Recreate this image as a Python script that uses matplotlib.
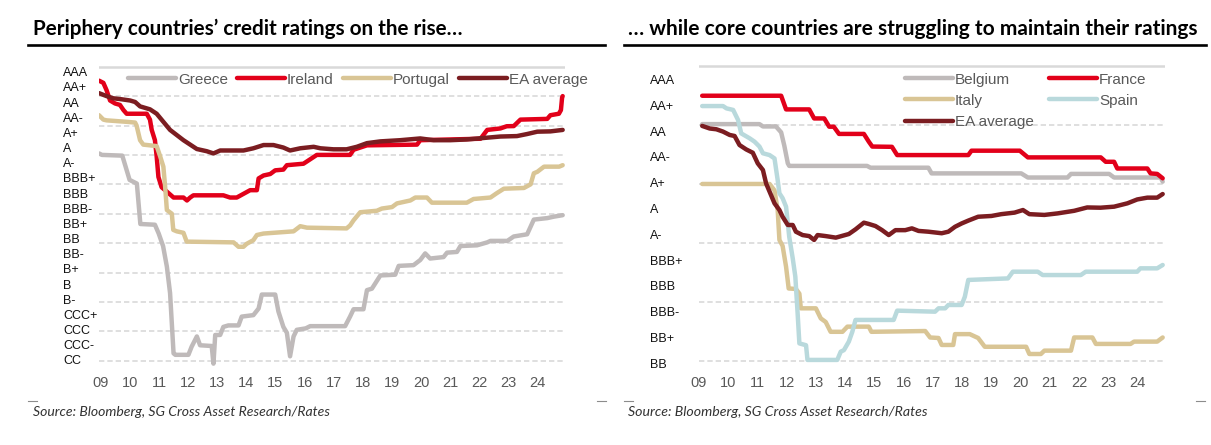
import matplotlib
matplotlib.use("Agg")
import matplotlib.pyplot as plt
import numpy as np

plt.rcParams['font.family'] = ['Liberation Sans', 'DejaVu Sans']

# ---------------- data (years, rating scale) ----------------
greece_x = [2009.0, 2009.1, 2009.8, 2010.05, 2010.3, 2010.35, 2010.42, 2010.92, 2011.05, 2011.2, 2011.33,
            2011.44, 2011.56, 2011.62, 2012.07, 2012.18, 2012.36, 2012.47, 2012.87, 2012.93, 2012.99,
            2013.16, 2013.27, 2013.44, 2013.79, 2013.9, 2014.3, 2014.48, 2014.59, 2015.05, 2015.16,
            2015.33, 2015.45, 2015.56, 2015.68, 2015.79, 2016.1, 2016.25, 2017.45, 2017.62, 2017.74,
            2018.08, 2018.2, 2018.37, 2018.66, 2019.17, 2019.29, 2019.8, 2020.03, 2020.2, 2020.37,
            2020.83, 2020.95, 2021.29, 2021.41, 2021.98, 2022.33, 2022.44, 2023.02, 2023.24, 2023.7,
            2023.93, 2024.39, 2024.62, 2024.92]
greece_y = [14.1, 14.0, 13.95, 12.3, 12.05, 10.9, 9.3, 9.25, 8.65, 7.8, 6.4,
            4.6, 0.5, 0.4, 0.4, 0.95, 1.65, 1.05, 1.0, -0.2, 1.75,
            1.75, 2.3, 2.4, 2.4, 3.0, 3.1, 3.55, 4.5, 4.5, 3.35,
            2.3, 1.9, 0.3, 1.65, 2.1, 2.2, 2.35, 2.35, 3.0, 3.5,
            3.5, 4.8, 4.9, 5.8, 5.85, 6.45, 6.5, 6.85, 7.3, 6.95,
            7.05, 7.35, 7.4, 7.8, 7.85, 8.05, 8.15, 8.15, 8.45, 8.6,
            9.6, 9.7, 9.8, 9.9]

ireland_x = [2009.0, 2009.15, 2009.26, 2009.38, 2009.55, 2009.72, 2009.84, 2009.95, 2010.64, 2010.75,
             2010.81, 2010.92, 2010.98, 2011.04, 2011.15, 2011.33, 2011.56, 2011.9, 2012.02, 2012.13,
             2012.24, 2013.27, 2013.5, 2013.73, 2013.96, 2014.19, 2014.42, 2014.48, 2014.65, 2014.88,
             2015.05, 2015.33, 2015.45, 2016.02, 2016.25, 2016.48, 2017.62, 2017.74, 2018.2, 2019.92,
             2020.03, 2022.1, 2022.33, 2022.78, 2023.0, 2023.24, 2023.47, 2024.39, 2024.5, 2024.79,
             2024.86, 2024.9, 2024.92]
ireland_y = [19.05, 18.9, 18.4, 17.7, 17.5, 17.4, 17.05, 16.8, 16.8, 16.4,
             15.7, 15.0, 13.9, 12.5, 11.8, 11.5, 11.1, 11.1, 10.9, 11.1,
             11.25, 11.25, 11.1, 11.1, 11.35, 11.6, 11.6, 12.4, 12.6, 12.7,
             12.95, 13.0, 13.3, 13.4, 13.7, 14.0, 14.0, 14.35, 14.65, 14.7,
             15.0, 15.1, 15.7, 15.8, 15.95, 15.96, 16.4, 16.45, 16.7, 16.8,
             17.05, 17.9, 18.0]

portugal_x = [2009.0, 2009.15, 2009.26, 2009.95, 2010.24, 2010.29, 2010.41, 2010.52, 2010.98, 2011.1,
              2011.21, 2011.27, 2011.33, 2011.5, 2011.55, 2011.67, 2011.9, 2012.01, 2013.62, 2013.79,
              2013.96, 2014.07, 2014.3, 2014.42, 2014.65, 2014.99, 2015.68, 2015.91, 2016.14, 2017.5,
              2017.62, 2017.74, 2017.97, 2018.54, 2018.71, 2019.06, 2019.23, 2019.69, 2019.86, 2020.26,
              2020.43, 2021.63, 2021.86, 2022.44, 2022.66, 2022.9, 2023.59, 2023.82, 2023.93, 2024.05,
              2024.28, 2024.8, 2024.92]
portugal_y = [16.7, 16.4, 16.35, 16.25, 16.2, 16.0, 15.0, 14.7, 14.6, 13.9,
              13.2, 11.85, 10.25, 10.0, 8.9, 8.8, 8.7, 8.1, 8.05, 7.75,
              7.75, 7.95, 8.2, 8.55, 8.65, 8.7, 8.8, 9.15, 9.05, 9.0,
              9.2, 9.55, 10.1, 10.2, 10.35, 10.45, 10.7, 10.9, 11.1, 11.1,
              10.75, 10.75, 11.0, 11.1, 11.4, 11.7, 11.75, 12.0, 12.75, 12.85,
              13.2, 13.2, 13.3]

ea_left_x = [2009.0, 2009.26, 2009.49, 2009.72, 2010.07, 2010.24, 2010.41, 2010.75, 2010.98, 2011.21,
             2011.44, 2011.67, 2011.9, 2012.13, 2012.36, 2012.7, 2012.93, 2013.16, 2013.62, 2013.96,
             2014.3, 2014.65, 2014.99, 2015.33, 2015.56, 2015.91, 2016.37, 2016.6, 2017.05, 2017.5,
             2017.85, 2018.2, 2018.66, 2019.34, 2020.03, 2020.49, 2021.06, 2021.63, 2022.2, 2022.78,
             2023.35, 2023.7, 2024.05, 2024.5, 2024.92]
ea_left_y = [18.2, 18.0, 17.85, 17.8, 17.7, 17.6, 17.3, 17.1, 16.8, 16.25,
             15.7, 15.35, 15.0, 14.7, 14.4, 14.25, 14.1, 14.3, 14.3, 14.3,
             14.45, 14.67, 14.67, 14.5, 14.3, 14.45, 14.55, 14.45, 14.38, 14.38,
             14.55, 14.8, 14.92, 15.0, 15.12, 15.0, 15.0, 15.05, 15.15, 15.25,
             15.28, 15.42, 15.58, 15.6, 15.7]

belgium_x = [2009.0, 2010.98, 2011.1, 2011.55, 2011.73, 2011.84, 2011.96, 2012.01, 2014.7, 2014.82,
             2016.82, 2016.93, 2020.03, 2020.26, 2021.63, 2021.75, 2023.07, 2023.24, 2024.85, 2024.92]
belgium_y = [9.17, 9.17, 9.08, 9.08, 8.85, 8.33, 7.65, 7.55, 7.55, 7.48,
             7.48, 7.26, 7.26, 7.1, 7.1, 7.24, 7.24, 7.1, 7.1, 6.94]

france_x = [2009.0, 2011.73, 2011.9, 2012.7, 2012.87, 2013.22, 2013.39, 2013.55, 2013.73, 2014.59,
            2014.76, 2014.88, 2015.56, 2015.74, 2018.2, 2018.31, 2019.98, 2020.26, 2022.78, 2022.95,
            2023.24, 2023.35, 2024.39, 2024.5, 2024.73, 2024.92]
france_y = [10.27, 10.27, 9.74, 9.74, 9.39, 9.39, 9.07, 9.07, 8.79, 8.79,
            8.49, 8.3, 8.29, 7.97, 7.97, 8.14, 8.14, 7.88, 7.88, 7.71,
            7.71, 7.45, 7.45, 7.26, 7.24, 7.07]

italy_x = [2009.0, 2011.33, 2011.5, 2011.61, 2011.67, 2011.78, 2011.9, 2011.99, 2012.24, 2012.36,
           2012.41, 2012.93, 2013.1, 2013.27, 2013.44, 2013.85, 2014.02, 2014.76, 2014.85, 2016.71,
           2016.88, 2017.17, 2017.28, 2017.68, 2017.74, 2018.25, 2018.54, 2018.77, 2020.2, 2020.31,
           2020.71, 2020.83, 2021.75, 2021.86, 2022.49, 2022.61, 2023.81, 2023.93, 2024.73, 2024.92]
italy_y = [6.85, 6.85, 6.6, 5.84, 4.68, 4.45, 3.64, 2.8, 2.78, 2.6,
           2.03, 2.03, 1.64, 1.5, 1.12, 1.12, 1.32, 1.32, 1.12, 1.15,
           0.9, 0.88, 0.61, 0.61, 1.03, 1.03, 0.88, 0.54, 0.54, 0.26,
           0.26, 0.39, 0.39, 0.9, 0.9, 0.65, 0.65, 0.74, 0.74, 0.9]

spain_x = [2009.0, 2009.72, 2009.84, 2010.07, 2010.24, 2010.35, 2010.64, 2010.81, 2010.98, 2011.1,
           2011.33, 2011.5, 2011.61, 2011.67, 2011.78, 2011.9, 2012.01, 2012.13, 2012.22, 2012.3,
           2012.36, 2012.59, 2012.64, 2013.67, 2013.79, 2013.9, 2014.07, 2014.19, 2014.3, 2015.62,
           2015.74, 2017.05, 2017.17, 2017.4, 2017.51, 2017.97, 2018.08, 2018.2, 2019.57, 2019.74,
           2020.6, 2020.77, 2022.09, 2022.26, 2024.04, 2024.15, 2024.73, 2024.92]
spain_y = [9.87, 9.87, 9.78, 9.72, 9.33, 8.81, 8.62, 8.49, 8.3, 8.04,
           7.97, 7.84, 7.0, 6.49, 6.3, 5.97, 4.8, 3.97, 3.26, 1.83,
           0.67, 0.6, 0.03, 0.03, 0.35, 0.41, 0.74, 1.12, 1.58, 1.58,
           1.94, 1.9, 2.03, 2.03, 2.16, 2.16, 2.48, 3.13, 3.19, 3.45,
           3.45, 3.32, 3.32, 3.45, 3.45, 3.58, 3.58, 3.71]

ea_right_x = [2009.0, 2009.26, 2009.49, 2009.72, 2009.95, 2010.12, 2010.29, 2010.52, 2010.75, 2010.92,
              2011.1, 2011.21, 2011.38, 2011.5, 2011.67, 2011.78, 2011.96, 2012.13, 2012.24, 2012.47,
              2012.7, 2012.87, 2012.99, 2013.27, 2013.62, 2014.07, 2014.3, 2014.59, 2014.76, 2014.99,
              2015.22, 2015.45, 2015.68, 2016.02, 2016.25, 2016.48, 2016.82, 2017.28, 2017.51, 2017.74,
              2017.97, 2018.2, 2018.54, 2019.0, 2019.34, 2019.8, 2020.09, 2020.31, 2020.83, 2021.29,
              2021.86, 2022.31, 2022.77, 2023.24, 2023.7, 2024.04, 2024.39, 2024.73, 2024.92]
ea_right_y = [9.1, 9.0, 8.97, 8.88, 8.75, 8.71, 8.36, 8.19, 8.06, 7.65,
              7.39, 6.87, 6.42, 6.1, 5.84, 5.58, 5.26, 5.26, 5.0, 4.87,
              4.83, 4.68, 4.87, 4.83, 4.77, 4.91, 5.09, 5.35, 5.3, 5.22,
              5.06, 4.87, 5.06, 5.06, 5.13, 5.03, 5.0, 4.94, 5.0, 5.19,
              5.32, 5.43, 5.58, 5.61, 5.68, 5.74, 5.84, 5.68, 5.65, 5.71,
              5.81, 5.94, 5.93, 5.97, 6.1, 6.25, 6.32, 6.32, 6.46]

left_rating_labels = ['CC', 'CCC-', 'CCC', 'CCC+', 'B-', 'B', 'B+', 'BB-', 'BB', 'BB+',
                      'BBB-', 'BBB', 'BBB+', 'A-', 'A', 'A+', 'AA-', 'AA', 'AA+', 'AAA']
right_rating_labels = ['BB', 'BB+', 'BBB-', 'BBB', 'BBB+', 'A-', 'A', 'A+', 'AA-', 'AA', 'AA+', 'AAA']
year_labels = ['09', '10', '11', '12', '13', '14', '15', '16', '17', '18', '19', '20', '21', '22', '23', '24']

left_title = "Periphery countries\u2019 credit ratings on the rise\u2026"
right_title = "\u2026 while core countries are struggling to maintain their ratings"
source_text = "Source: Bloomberg, SG Cross Asset Research/Rates"

# ---------------- styling ----------------
C_GRAY = '#BFBABA'
C_RED = '#E2001A'
C_TAN = '#D9C595'
C_DARK = '#7B1D21'
C_BLUE = '#B9D9DC'
GRID_C = '#D9D9D9'
LW = 3.2

W, H = 1211, 445
fig = plt.figure(figsize=(W / 100, H / 100), dpi=100)


def fx(px):
    return px / W


def fy(py):
    return 1 - py / H


def make_axes(x0, y_top_px, y_bot_px, ylim):
    ax = fig.add_axes([fx(x0), fy(y_bot_px), 466 / W, (y_bot_px - y_top_px) / H])
    ax.set_xlim(2009.0, 2025.0)
    ax.set_ylim(*ylim)
    for s in ax.spines.values():
        s.set_visible(False)
    ax.patch.set_alpha(0)
    return ax


# left chart: 14.7 px per unit, unit 0 at y=360.7
axL = make_axes(99, 360.7 - 20.3 * 14.7, 360.7 + 0.4 * 14.7, (-0.4, 20.3))
# right chart: 25.8 px per unit
axR = make_axes(699, 360.7 - 11.6 * 25.8, 360.7 + 0.25 * 25.8, (-0.25, 11.6))

dash = (0, (3.2, 1.8))
for v in np.arange(0, 19, 2):
    axL.axhline(v, color=GRID_C, lw=1.2, ls=dash, zorder=0)
axL.axhline(20, color=GRID_C, lw=1.8, zorder=0)
step_r = 11.425 / 5
for k in range(5):
    axR.axhline(k * step_r, color=GRID_C, lw=1.2, ls=dash, zorder=0)
axR.axhline(5 * step_r, color=GRID_C, lw=1.8, zorder=0)

kw = dict(lw=LW, solid_capstyle='round', solid_joinstyle='round')
axL.plot(greece_x, greece_y, color=C_GRAY, label='Greece', **kw)
axL.plot(ireland_x, ireland_y, color=C_RED, label='Ireland', **kw)
axL.plot(portugal_x, portugal_y, color=C_TAN, label='Portugal', **kw)
axL.plot(ea_left_x, ea_left_y, color=C_DARK, label='EA average', **kw)

lb, = axR.plot(belgium_x, belgium_y, color=C_GRAY, label='Belgium', **kw)
lf, = axR.plot(france_x, france_y, color=C_RED, label='France', **kw)
li, = axR.plot(italy_x, italy_y, color=C_TAN, label='Italy', **kw)
ls_, = axR.plot(spain_x, spain_y, color=C_BLUE, label='Spain', **kw)
le, = axR.plot(ea_right_x, ea_right_y, color=C_DARK, label='EA average', **kw)

# y labels
axL.set_yticks([0.048 + 1.032 * i for i in range(len(left_rating_labels))])
axL.set_yticklabels(left_rating_labels, ha='left', fontsize=9, color='#111111')
axL.tick_params(axis='y', length=0, pad=36 / 1.389)
axR.set_yticks([i - 0.1 for i in range(len(right_rating_labels))])
axR.set_yticklabels(right_rating_labels, ha='left', fontsize=9, color='#111111')
axR.tick_params(axis='y', length=0, pad=49 / 1.389)

# x labels
axL.set_xticks([2009.06 + i for i in range(len(year_labels))])
axL.set_xticklabels(year_labels, fontsize=10.5, color='#595959')
axR.set_xticks([2008.89 + 1.0103 * i for i in range(len(year_labels))])
axR.set_xticklabels(year_labels, fontsize=10.5, color='#595959')
for ax in (axL, axR):
    ax.tick_params(axis='x', length=0, pad=6.5)

# legends
legkw = dict(frameon=False, fontsize=11, handlelength=3.15, handletextpad=0.12,
             borderpad=0, borderaxespad=0, labelcolor='#595959', bbox_transform=fig.transFigure)
axL.legend(ncol=4, loc='upper left', bbox_to_anchor=(fx(128), fy(72.5)), columnspacing=0.6, **legkw)
axR.legend([lb, li, le, lf, ls_], ['Belgium', 'Italy', 'EA average', 'France', 'Spain'],
           ncol=2, loc='upper left', bbox_to_anchor=(fx(905), fy(72.5)), columnspacing=1.0,
           labelspacing=0.47, **legkw)

# titles, rules, sources
renderer = fig.canvas.get_renderer()


def fit_text(xpx, ypx, s, width_px, **kwargs):
    t = fig.text(fx(xpx), fy(ypx), s, **kwargs)
    bb = t.get_window_extent(renderer=renderer)
    t.set_fontsize(t.get_fontsize() * width_px / bb.width)
    return t


fit_text(33, 35, left_title, 430, fontsize=13, fontweight='bold', family=['Lato', 'DejaVu Sans'],
         color='black', va='baseline')
fit_text(628, 35, right_title, 568, fontsize=13, fontweight='bold', family=['Lato', 'DejaVu Sans'],
         color='black', va='baseline')
fit_text(33, 415.5, source_text, 296, fontsize=9, style='italic', family=['Lato', 'DejaVu Sans'],
         color='#333333', va='baseline')
fit_text(628, 415.5, source_text, 300, fontsize=9, style='italic', family=['Lato', 'DejaVu Sans'],
         color='#333333', va='baseline')

for (a, b) in ((28, 605), (624, 1206)):
    fig.add_artist(plt.Line2D([fx(a), fx(b)], [fy(44.5), fy(44.5)], color='black', lw=1.9,
                              transform=fig.transFigure))
for (a, b) in ((28, 37), (597, 606), (624, 633), (1196, 1205)):
    fig.add_artist(plt.Line2D([fx(a), fx(b)], [fy(401), fy(401)], color='#8C8C8C', lw=0.8,
                              transform=fig.transFigure))

fig.savefig('out.png', dpi=100)
